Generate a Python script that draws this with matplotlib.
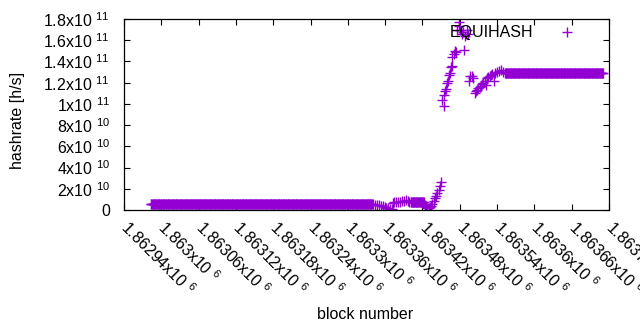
import numpy as np
import matplotlib
matplotlib.use('Agg')
import matplotlib.pyplot as plt

plt.rcParams['font.family'] = ['Liberation Sans', 'DejaVu Sans']
plt.rcParams['mathtext.fontset'] = 'custom'
plt.rcParams['mathtext.rm'] = 'Liberation Sans'
plt.rcParams['mathtext.default'] = 'regular'

# Datos (bloque, hashrate en h/s)
# tramo plano inicial
flat1_blocks = list(range(1862983, 1863340))
flat1_rate = [6.0e9] * len(flat1_blocks)

# caída y recuperación alrededor de 1.8633x10^6
dip_blocks = [1863341, 1863344, 1863347, 1863350, 1863353, 1863356, 1863359,
              1863362, 1863365, 1863368, 1863371]
dip_rate = [5.5e9, 5.0e9, 4.8e9, 4.5e9, 4.0e9, 3.5e9, 3.0e9,
            2.2e9, 1.5e9, 1.0e9, 0.5e9]

mid_blocks = [1863372, 1863375, 1863378, 1863381, 1863384, 1863387, 1863390,
              1863393, 1863396, 1863399]
mid_rate = [7.0e9, 7.5e9, 7.5e9, 8.0e9, 8.0e9, 8.5e9, 8.5e9,
            9.0e9, 8.5e9, 8.0e9]

flat2_blocks = list(range(1863401, 1863423))
flat2_rate = [7.5e9] * len(flat2_blocks)

rise_blocks = [1863424, 1863426, 1863428, 1863430, 1863432, 1863434, 1863436,
               1863438, 1863440, 1863442, 1863444, 1863446, 1863448, 1863450]
rise_rate = [5.0e9, 3.0e9, 1.5e9, 1.5e9, 2.5e9, 4.0e9, 6.0e9,
             8.5e9, 1.1e10, 1.35e10, 1.6e10, 1.9e10, 2.3e10, 2.6e10]

# salto a ~1e11 y pico
jump_blocks = [1863452, 1863454, 1863455, 1863457, 1863458, 1863460, 1863461,
               1863463, 1863464, 1863466, 1863467, 1863468, 1863470, 1863472,
               1863474, 1863476, 1863478, 1863479, 1863481, 1863483, 1863485,
               1863487, 1863489, 1863491, 1863493]
jump_rate = [1.04e11, 9.8e10, 1.08e11, 1.12e11, 1.14e11, 1.20e11, 1.22e11,
             1.27e11, 1.29e11, 1.35e11, 1.44e11, 1.36e11, 1.47e11, 1.50e11,
             1.49e11, 1.70e11, 1.73e11, 1.77e11, 1.70e11, 1.66e11, 1.68e11,
             1.51e11, 1.64e11, 1.70e11, 1.66e11]

# bajada y estabilización
settle_blocks = [1863495, 1863497, 1863499, 1863501, 1863504, 1863506, 1863508,
                 1863510, 1863512, 1863514, 1863516, 1863518, 1863520, 1863522,
                 1863524, 1863526, 1863528, 1863530, 1863532, 1863535, 1863537,
                 1863540, 1863543, 1863546, 1863549, 1863552]
settle_rate = [1.22e11, 1.26e11, 1.26e11, 1.24e11, 1.10e11, 1.12e11, 1.13e11,
               1.15e11, 1.16e11, 1.17e11, 1.19e11, 1.20e11, 1.22e11, 1.18e11,
               1.24e11, 1.25e11, 1.26e11, 1.27e11, 1.28e11, 1.22e11, 1.29e11,
               1.30e11, 1.31e11, 1.32e11, 1.30e11, 1.29e11]

flat3_blocks = list(range(1863554, 1863711))
flat3_rate = [1.29e11] * len(flat3_blocks)

blocks = np.array(flat1_blocks + dip_blocks + mid_blocks + flat2_blocks +
                  rise_blocks + jump_blocks + settle_blocks + flat3_blocks)
hashrate = np.array(flat1_rate + dip_rate + mid_rate + flat2_rate +
                    rise_rate + jump_rate + settle_rate + flat3_rate)

xticks = [1862940 + 60 * i for i in range(14)]
xtick_labels = ['1.86294', '1.863', '1.86306', '1.86312', '1.86318', '1.86324',
                '1.8633', '1.86336', '1.86342', '1.86348', '1.86354', '1.8636',
                '1.86366', '1.86372']
yticks = [0, 2e10, 4e10, 6e10, 8e10, 1e11, 1.2e11, 1.4e11, 1.6e11, 1.8e11]
ytick_labels = ['0', '2x10 $^{10}$', '4x10 $^{10}$', '6x10 $^{10}$', '8x10 $^{10}$',
                '1x10 $^{11}$', '1.2x10 $^{11}$', '1.4x10 $^{11}$',
                '1.6x10 $^{11}$', '1.8x10 $^{11}$']

fig = plt.figure(figsize=(6.4, 3.3), dpi=100)
ax = fig.add_axes([124 / 640, 1 - 210 / 330, 485 / 640, 191 / 330])

ax.plot(blocks, hashrate, linestyle='none', marker='+', markersize=6.5,
        markeredgewidth=1.0, color='#9400d3', label='EQUIHASH')

ax.set_xlim(1862940, 1863720)
ax.set_ylim(0, 1.8e11)
ax.set_xticks(xticks)
ax.set_xticklabels([l + 'x10 $^{6}$' for l in xtick_labels], rotation=-45,
                   ha='left', va='center', rotation_mode='anchor')
ax.set_yticks(yticks)
ax.set_yticklabels(ytick_labels)
ax.tick_params(direction='in', length=4.5, width=0.8, top=True, right=True,
               labelsize=11.5, colors='black')
ax.tick_params(axis='x', pad=10)
ax.tick_params(axis='y', pad=10)
for s in ax.spines.values():
    s.set_linewidth(0.9)

ax.set_xlabel('block number', fontsize=11.5)
ax.set_ylabel('hashrate [h/s]', fontsize=11.5)
ax.xaxis.set_label_coords(241 / 485, -97 / 191)
ax.yaxis.set_label_coords(-99 / 485, 0.47)

ax.legend(loc='upper right', bbox_to_anchor=(0.952, 1.0), frameon=False,
          markerfirst=False, fontsize=11.5, handlelength=1.5,
          handletextpad=1.4, borderaxespad=0)

plt.savefig('out.png', dpi=100)
